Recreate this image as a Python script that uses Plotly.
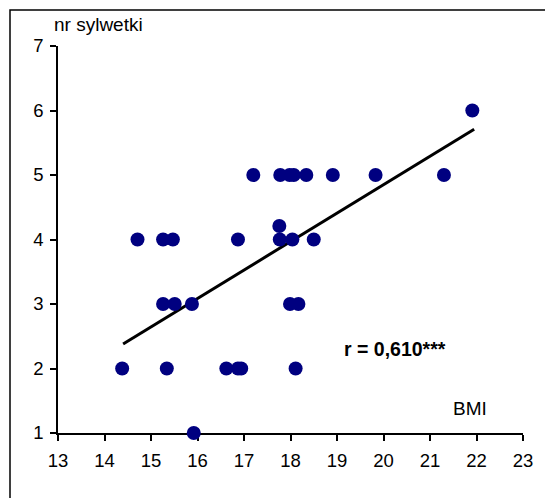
import plotly.graph_objects as go

# ---- data ----
bmi = [15.92,
       14.38, 15.34, 16.62, 16.87, 16.94, 18.11,
       15.26, 15.51, 15.88, 17.99, 18.17,
       14.71, 15.26, 15.47, 16.87, 17.77, 18.04, 18.50,
       17.76,
       17.20, 17.78, 17.98, 18.07, 18.34, 18.91, 19.83, 21.30,
       21.91]
sylwetka = [1,
            2, 2, 2, 2, 2, 2,
            3, 3, 3, 3, 3,
            4, 4, 4, 4, 4, 4, 4,
            4.21,
            5, 5, 5, 5, 5, 5, 5, 5,
            6]
trend_x = [14.40, 21.95]
trend_y = [2.38, 5.71]
x_ticks = list(range(13, 24))
y_ticks = list(range(1, 8))
r_text = "r = 0,610***"
x_title = "BMI"
y_title = "nr sylwetki"

W, H = 545, 498
ML, MR, MT, MB = 58, 22, 46, 65
PW, PH = W - ML - MR, H - MT - MB


def px(x):
    return (x - ML) / PW


def py(y):
    return (H - MB - y) / PH


FONT = "Arial, Liberation Sans, sans-serif"

fig = go.Figure()
fig.add_trace(go.Scatter(
    x=trend_x, y=trend_y, mode="lines",
    line=dict(color="black", width=3), hoverinfo="skip", showlegend=False))
fig.add_trace(go.Scatter(
    x=bmi, y=sylwetka, mode="markers",
    marker=dict(color="#000080", size=14, line=dict(width=0)),
    cliponaxis=False, showlegend=False))

axis_common = dict(
    showgrid=False, zeroline=False, showline=True, linecolor="black", linewidth=1.5,
    ticks="outside", ticklen=6, tickwidth=1.5, tickcolor="black",
    tickfont=dict(family=FONT, size=18.5, color="black"),
    layer="below traces", automargin=False)

fig.update_xaxes(range=[13, 23], tickvals=x_ticks, ticktext=[str(v) for v in x_ticks],
                 ticklabelstandoff=4, **axis_common)
fig.update_yaxes(range=[1, 7], tickvals=y_ticks, ticktext=[str(v) for v in y_ticks],
                 ticklabelstandoff=3, **axis_common)

fig.update_layout(
    width=W, height=H,
    margin=dict(l=ML, r=MR, t=MT, b=MB, pad=0),
    paper_bgcolor="white", plot_bgcolor="white",
    font=dict(family=FONT, color="black"),
    showlegend=False,
    shapes=[dict(type="rect", xref="paper", yref="paper",
                 x0=px(10), x1=px(600), y0=py(10), y1=py(560),
                 line=dict(color="black", width=1.5), layer="below")],
    annotations=[
        dict(text=y_title, xref="paper", yref="paper", x=px(52), y=py(24),
             xanchor="left", yanchor="middle", showarrow=False,
             font=dict(family=FONT, size=19, color="black")),
        dict(text=x_title, xref="paper", yref="paper", x=px(470), y=py(408),
             xanchor="center", yanchor="middle", showarrow=False,
             font=dict(family=FONT, size=19, color="black")),
        dict(text="<b>" + r_text + "</b>", xref="paper", yref="paper", x=px(342), y=py(349),
             xanchor="left", yanchor="middle", showarrow=False,
             font=dict(family=FONT, size=19.5, color="black")),
    ],
)

fig.write_html("out.html",
               config={"displayModeBar": False},
               post_script="document.body.style.margin='0px';"
                           "document.body.style.overflow='hidden';")
